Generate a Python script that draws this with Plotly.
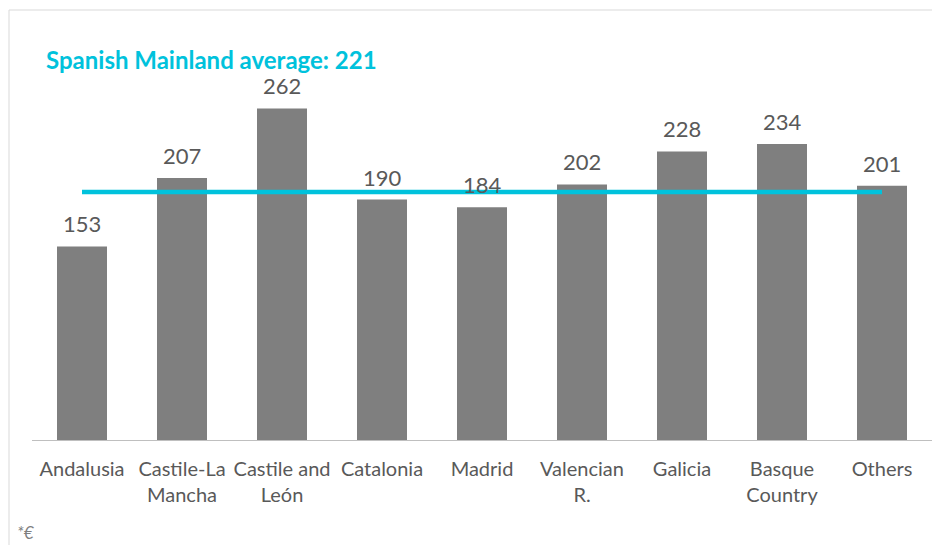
import plotly.graph_objects as go

categories = ["Andalusia", "Castile-La<br>Mancha", "Castile and<br>León", "Catalonia", "Madrid",
              "Valencian<br>R.", "Galicia", "Basque<br>Country", "Others"]
values = [153, 207, 262, 190, 184, 202, 228, 234, 201]
average_line_level = 196
average_label = "Spanish Mainland average: 221"
unit_note = "*€"

FONT = "Lato, 'Open Sans', sans-serif"

fig = go.Figure()
fig.add_trace(go.Bar(
    x=categories, y=values,
    marker=dict(color="#7f7f7f", line=dict(width=0)),
    showlegend=False, hoverinfo="skip",
))
fig.add_trace(go.Scatter(
    x=categories, y=[average_line_level] * len(categories),
    mode="lines", line=dict(color="#00c2dc", width=4.5),
    showlegend=False, hoverinfo="skip", cliponaxis=False,
))

# page body has an 8px margin: figure coordinates = page coordinates - 8
OFF = 8
W, H = 940, 545
L, T = 32 - OFF, 60 - OFF
R = W - (932 - OFF)
B = H - (440 - OFF)
pw, ph = W - L - R, H - T - B

def px(xp):
    return (xp - OFF - L) / pw

def py(yp):
    return (440 - yp) / ph

annotations = [
    dict(x=c, y=v, xref="x", yref="y", text=str(v), showarrow=False,
         yanchor="bottom", yshift=7,
         font=dict(size=22, color="#595959", family=FONT))
    for c, v in zip(categories, values)
]
annotations += [
    dict(text="<b>" + average_label + "</b>", xref="paper", yref="paper",
         x=px(44), y=py(59), xanchor="left", yanchor="middle",
         showarrow=False, font=dict(size=24, color="#00c2dc", family=FONT)),
    dict(text="<i>" + unit_note + "</i>", xref="paper", yref="paper",
         x=px(15), y=py(532), xanchor="left", yanchor="middle",
         showarrow=False, font=dict(size=17, color="#7f7f7f", family=FONT)),
]

fig.update_layout(
    width=W, height=H,
    margin=dict(l=L, r=R, t=T, b=B),
    paper_bgcolor="white", plot_bgcolor="white",
    bargap=0.5,
    font=dict(family=FONT, color="#595959"),
    xaxis=dict(showgrid=False, showline=True, linecolor="#bfbfbf", linewidth=1,
               ticks="", ticklabelstandoff=11,
               tickfont=dict(size=20, color="#595959", family=FONT)),
    yaxis=dict(range=[0, 300.3], visible=False, showgrid=False),
    annotations=annotations,
    shapes=[dict(type="rect", xref="paper", yref="paper",
                 x0=px(9), x1=px(940),
                 y0=py(560), y1=py(10),
                 line=dict(color="#d9d9d9", width=1), layer="below")],
)

fig.write_html("out.html")
